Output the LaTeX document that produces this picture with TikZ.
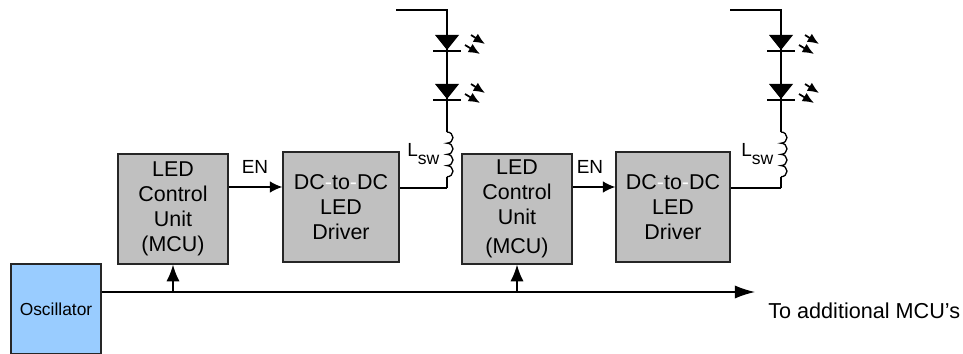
\documentclass[tikz,border=0pt]{standalone}
\usepackage{fontspec}
\setmainfont{Liberation Sans}
\usetikzlibrary{arrows.meta}
\definecolor{boxgray}{RGB}{192,192,192}
\definecolor{oscblue}{RGB}{153,204,255}
\tikzset{
  unitbox/.style={draw=black!85, line width=0.85pt, fill=boxgray, minimum width=1.9cm, minimum height=2.2cm,
    inner sep=0pt, align=center, font=\fontsize{12.2}{14.2}\selectfont},
  wire/.style={line width=0.75pt},
  ledbar/.style={line width=0.85pt},
  lightray/.style={line width=1pt, -{Latex[length=6.5pt,width=5.5pt]}},
  labeltext/.style={inner sep=0pt, font=\fontsize{10.8}{12}\selectfont}
}
\newcommand{\dcdc}{DC{\color{white}-}to{\color{white}-}DC}
\begin{document}
\begin{tikzpicture}[x=0.02cm, y=-0.02cm]
  \useasboundingbox (0,0) rectangle (963,354);
  % oscillator and clock line
  \node[draw=black!85, line width=0.85pt, fill=oscblue, minimum width=1.8cm, minimum height=1.8cm, inner sep=0pt,
    font=\fontsize{9.9}{12}\selectfont] (osc) at (56,309) {Oscillator};
  \coordinate (clkend) at (755,292);
  \draw[wire, -{Latex[length=11.5pt,width=7.5pt]}] (osc.east |- clkend) -- (clkend);
  \node[labeltext, anchor=west, font=\fontsize{12.3}{14}\selectfont] (toadd) at (768,311) {To additional MCU’s};

  % control units and drivers
  \node[unitbox, minimum width=2.2cm] (mcuA) at (173,209) {LED\\Control\\Unit\\(MCU)};
  \node[unitbox, minimum width=2.32cm] (drvA) at (341,207) {\dcdc\\LED\\Driver};
  \node[unitbox, minimum width=2.2cm] (mcuB) at (517,209) {LED\\Control\\Unit\\[2pt](MCU)};
  \node[unitbox, minimum width=2.28cm] (drvB) at (673,207) {\dcdc\\LED\\Driver};

  \foreach \unit/\drv/\tapx/\enx in {mcuA/drvA/173/255, mcuB/drvB/517/590} {
    \coordinate (tap) at (\tapx,292);
    \draw[wire, -{Latex[length=9.5pt,width=7.5pt]}] (tap) -- (\unit.south);
    \draw[wire, -{Latex[length=7pt,width=6.5pt]}] (\unit.east |- 0,187) -- (\drv.west |- 0,187);
    \node[labeltext] (en\unit) at (\enx,167) {EN};
  }

  % led strings with inductor
  \foreach \drv/\sx in {drvA/447, drvB/781} {
    \begin{scope}[shift={(\sx,0)}]
      \coordinate (top) at (-51,10);
      \coordinate (bend) at (0,10);
      \coordinate (coilin) at (0,132);
      \coordinate (coilout) at (0,177);
      \coordinate (base) at (0,188);
      \draw[wire] (top) -- (bend) -- (coilin);
      \draw[wire] (coilin) arc[start angle=-90, end angle=90, x radius=6, y radius=5.6]
        arc[start angle=-90, end angle=90, x radius=6, y radius=5.6]
        arc[start angle=-90, end angle=90, x radius=6, y radius=5.6]
        arc[start angle=-90, end angle=90, x radius=6, y radius=5.6];
      \draw[wire] (coilout) -- (base);
      \draw[wire] (base) -- (\drv.east |- base);
      \foreach \ly in {35,84} {
        \fill (-12,\ly) -- (12,\ly) -- (0,\ly+15) -- cycle;
        \draw[ledbar] (-14,\ly+16) -- (14,\ly+16);
        \draw[lightray] (24,\ly) -- (38,\ly+9);
        \draw[lightray] (18,\ly+10) -- (33,\ly+19);
      }
      \node[labeltext, anchor=base west] (lsw\drv) at (-40,157) {L\raisebox{-4.5pt}{\fontsize{10}{12}\selectfont sw}};
    \end{scope}
  }
\end{tikzpicture}
\end{document}
